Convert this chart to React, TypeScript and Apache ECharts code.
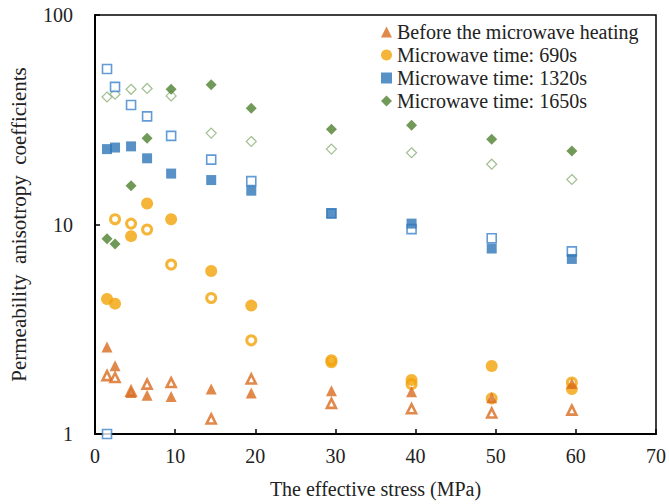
import React, { useEffect, useRef } from "react";
import * as echarts from "echarts";

const stress = [1.5, 2.5, 4.5, 6.5, 9.5, 14.5, 19.5, 29.5, 39.5, 49.5, 59.5];

// filled markers
const beforeHeating = [2.6, 2.12, 1.58, 1.53, 1.51, 1.64, 1.57, 1.61, 1.59, 1.49, 1.74];
const time690 = [4.41, 4.19, 8.8, 12.6, 10.6, 6.0, 4.1, 2.2, 1.81, 2.11, 1.64];
const time1320 = [22.9, 23.3, 23.6, 20.7, 17.5, 16.3, 14.5, 11.3, 10.1, 7.68, 6.85];
const time1650 = [8.54, 8.08, 15.3, 25.8, 44.2, 46.4, 35.9, 28.5, 29.8, 25.5, 22.4];

// hollow markers
const beforeHeatingOpen = [1.9, 1.86, 1.6, 1.73, 1.76, 1.18, 1.83, 1.4, 1.32, 1.26, 1.3];
const time690Open = [null, 10.6, 10.1, 9.46, 6.44, 4.46, 2.8, 2.25, 1.73, 1.48, 1.76];
const time1320Open = [55.2, 45.4, 37.2, 32.8, 26.5, 20.4, 16.1, 11.3, 9.5, 8.6, 7.44];
const time1320OpenExtraX = [1.5];
const time1320OpenExtraY = [1.0];
const time1650Open = [40.6, 41.9, 44.2, 44.6, 41.1, 27.3, 24.9, 22.9, 22.0, 19.4, 16.4];

const xTicks = [0, 10, 20, 30, 40, 50, 60, 70];
const yTicks = [1, 10, 100];

const names = [
  "Before the microwave heating",
  "Microwave time: 690s",
  "Microwave time: 1320s",
  "Microwave time: 1650s",
];

const C_TRI = "#DA6A1E";
const C_CIR = "#F2A307";
const C_SQ = "#2E75B6";
const C_DIA = "#4E7F2E";
const C_DIA_OPEN = "#8AAE76";

const FONT = "Liberation Serif";

function pairs(xs: number[], ys: (number | null)[]) {
  const out: number[][] = [];
  xs.forEach((x, i) => {
    const y = ys[i];
    if (y !== null && y !== undefined) out.push([x, y]);
  });
  return out;
}

export default function App() {
  const ref = useRef<HTMLDivElement>(null);
  useEffect(() => {
    if (!ref.current) return;
    const chart = echarts.init(ref.current, null, { renderer: "svg" });
    const openStyle = (c: string, w: number) => ({ color: "#ffffff", borderColor: c, borderWidth: w });
    chart.setOption({
      animation: false,
      backgroundColor: "#ffffff",
      textStyle: { fontFamily: FONT },
      grid: {
        left: 89,
        right: 9,
        top: 15,
        bottom: 70,
        show: true,
        borderColor: "#000",
        borderWidth: 1.5,
        backgroundColor: "transparent",
      },
      legend: {
        data: names,
        orient: "vertical",
        left: 381,
        top: 22,
        padding: 0,
        itemWidth: 11,
        itemHeight: 11,
        itemGap: 3,
        textStyle: { fontFamily: FONT, fontSize: 20, color: "#222", lineHeight: 20 },
      },
      xAxis: {
        type: "value",
        min: xTicks[0],
        max: xTicks[xTicks.length - 1],
        interval: 10,
        name: "The effective stress (MPa)",
        nameLocation: "middle",
        nameGap: 45,
        nameTextStyle: { fontFamily: FONT, fontSize: 20, color: "#222" },
        axisLine: { lineStyle: { color: "#000", width: 2 } },
        axisTick: { inside: true, length: 5, lineStyle: { color: "#000", width: 1.5 } },
        axisLabel: { fontFamily: FONT, fontSize: 20, color: "#222", margin: 12 },
        splitLine: { show: false },
      },
      yAxis: {
        type: "log",
        logBase: 10,
        min: yTicks[0],
        max: yTicks[yTicks.length - 1],
        name: "Permeability  anisotropy  coefficients",
        nameLocation: "middle",
        nameGap: 66,
        nameTextStyle: { fontFamily: FONT, fontSize: 21, color: "#222" },
        axisLine: { show: true, lineStyle: { color: "#000", width: 2 } },
        axisTick: { show: true, inside: true, length: 5, lineStyle: { color: "#000", width: 1.5 } },
        minorTick: { show: false },
        axisLabel: { fontFamily: FONT, fontSize: 20, color: "#222", margin: 22 },
        splitLine: { show: false },
      },
      series: [
        {
          name: names[3] + " open",
          type: "scatter",
          symbol: "diamond",
          symbolSize: 10,
          itemStyle: openStyle(C_DIA_OPEN, 1.2),
          data: pairs(stress, time1650Open),
        },
        {
          name: names[2] + " open",
          type: "scatter",
          symbol: "rect",
          symbolSize: 9,
          itemStyle: openStyle("#3B82CC", 1.6),
          data: pairs(stress, time1320Open),
        },
        {
          name: names[2] + " open extra",
          type: "scatter",
          symbol: "rect",
          symbolSize: 9,
          clip: false,
          itemStyle: openStyle("#3B82CC", 1.6),
          data: pairs(time1320OpenExtraX, time1320OpenExtraY),
        },
        {
          name: names[1] + " open",
          type: "scatter",
          symbol: "circle",
          symbolSize: 9,
          itemStyle: openStyle(C_CIR, 3),
          data: pairs(stress, time690Open),
        },
        {
          name: names[0] + " open",
          type: "scatter",
          symbol: "triangle",
          symbolSize: 9,
          itemStyle: openStyle(C_TRI, 2.6),
          data: pairs(stress, beforeHeatingOpen),
        },
        {
          name: names[3],
          type: "scatter",
          symbol: "diamond",
          symbolSize: 11,
          itemStyle: { color: C_DIA },
          data: pairs(stress, time1650),
        },
        {
          name: names[2],
          type: "scatter",
          symbol: "rect",
          symbolSize: 10,
          itemStyle: { color: C_SQ },
          data: pairs(stress, time1320),
        },
        {
          name: names[1],
          type: "scatter",
          symbol: "circle",
          symbolSize: 12,
          itemStyle: { color: C_CIR },
          data: pairs(stress, time690),
        },
        {
          name: names[0],
          type: "scatter",
          symbol: "triangle",
          symbolSize: 11,
          itemStyle: { color: C_TRI },
          data: pairs(stress, beforeHeating),
        },
      ],
    });
    return () => chart.dispose();
  }, []);
  return <div ref={ref} style={{ width: 669, height: 504, position: "absolute", left: 0, top: 0 }} />;
}
